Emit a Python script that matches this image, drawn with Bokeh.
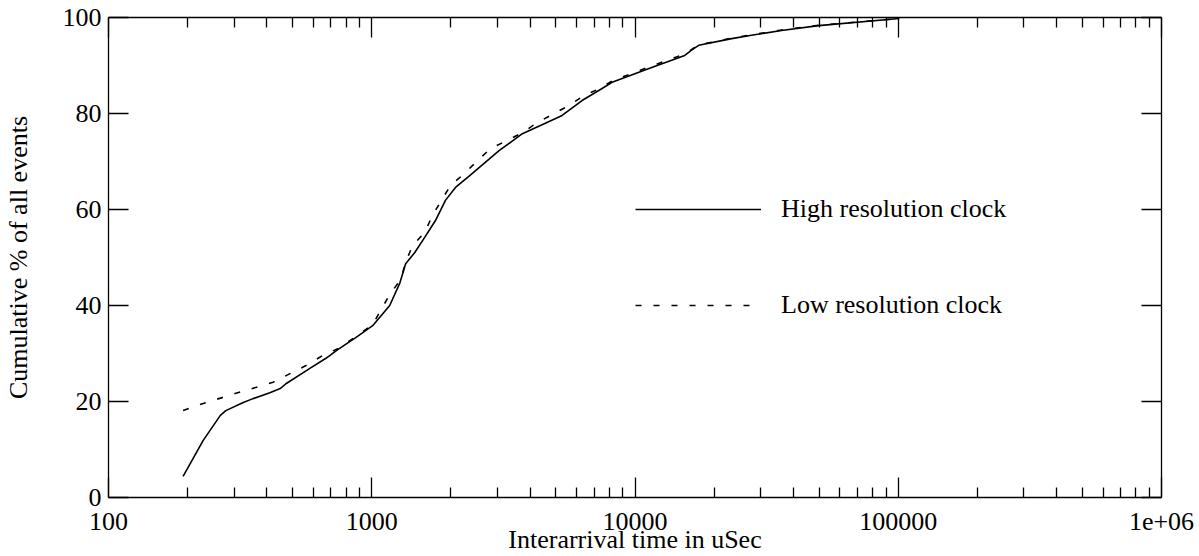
from bokeh.plotting import figure
from bokeh.models import (Range1d, LogAxis, LinearAxis, FixedTicker, CustomJSTickFormatter,
                          Legend, LegendItem)
from bokeh.embed import file_html
from bokeh.resources import INLINE

# ---- data ----
hi_x = [192, 229, 266, 279, 325, 354, 410, 449, 472, 582, 670, 743, 869, 1008, 1170, 1277,
        1345, 1455, 1589, 1746, 1905, 2080, 2350, 3053, 3733, 4500, 5285, 6293, 7500, 8185,
        11300, 15450, 16700, 17460, 23300, 27700, 36000, 49800, 101000]
hi_y = [4.4, 11.9, 17.1, 18.1, 19.8, 20.6, 21.8, 22.7, 23.7, 26.9, 29.0, 30.8, 33.3, 35.8, 40.0, 44.6,
        48.7, 51.0, 54.2, 57.7, 61.9, 64.6, 67.0, 72.3, 75.8, 77.8, 79.6, 82.7, 85.2, 86.5,
        89.4, 92.1, 93.5, 94.2, 95.6, 96.3, 97.3, 98.3, 99.8]

lo_x = [192, 229, 305, 422, 489, 563, 652, 743, 869, 1008, 1082, 1170, 1289, 1345, 1429, 1589,
        1702, 1858, 1992, 2250, 2523, 2827, 3273, 3733, 4255, 4933, 5623, 6412, 7350, 8185,
        11300, 15450, 16700, 17460, 23300, 36000, 49800, 101000]
lo_y = [18.1, 19.6, 21.7, 24.0, 25.8, 27.5, 29.6, 31.0, 33.5, 36.0, 39.0, 42.3, 45.4, 49.0, 52.5, 55.2,
        58.8, 62.3, 65.0, 67.5, 70.2, 72.7, 74.4, 76.0, 78.1, 80.0, 81.7, 83.75, 85.2, 86.8,
        89.7, 92.4, 93.6, 94.3, 95.7, 97.4, 98.4, 99.8]

series_names = ["High resolution clock", "Low resolution clock"]
x_ticks = [100, 1000, 10000, 100000, 1000000]
x_tick_labels = ["100", "1000", "10000", "100000", "1e+06"]
x_minor_ticks = [m * d for d in x_ticks[:-1] for m in range(2, 10)]
y_ticks = [0, 20, 40, 60, 80, 100]
x_title = "Interarrival time in uSec"
y_title = "Cumulative % of all events"

FONT = "Liberation Serif"
FS = "26px"

p = figure(width=1199, height=556, x_axis_type="log",
           x_range=Range1d(100, 1e6), y_range=Range1d(0, 100),
           output_backend="svg", toolbar_location=None,
           min_border_left=105, min_border_right=38, min_border_top=17, min_border_bottom=59,
           outline_line_color=None, background_fill_color="white", border_fill_color="white")
p.xgrid.visible = False
p.ygrid.visible = False

xfmt = CustomJSTickFormatter(args=dict(xt=x_ticks, xl=x_tick_labels), code="""
for (let i = 0; i < xt.length; i++) {
  if (Math.abs(tick - xt[i]) < 1e-6 * xt[i]) return xl[i];
}
return "";
""")
blank = CustomJSTickFormatter(code="return '';")


def style(ax):
    ax.axis_line_color = "black"
    ax.axis_line_width = 1.3
    ax.major_tick_line_color = "black"
    ax.major_tick_line_width = 1.3
    ax.minor_tick_line_color = "black"
    ax.minor_tick_line_width = 1.3
    ax.major_tick_in = 20
    ax.major_tick_out = 0
    ax.minor_tick_in = 10
    ax.minor_tick_out = 0
    ax.major_label_text_font = FONT
    ax.major_label_text_font_size = FS
    ax.major_label_text_color = "black"
    ax.axis_label_text_font = FONT
    ax.axis_label_text_font_size = FS
    ax.axis_label_text_font_style = "normal"
    ax.axis_label_text_color = "black"


# bottom x axis
xa = p.xaxis[0]
xa.ticker = FixedTicker(ticks=x_ticks, minor_ticks=x_minor_ticks)
xa.formatter = xfmt
style(xa)
xa.major_label_standoff = 15
xa.axis_label = x_title
xa.axis_label_standoff = -8

# left y axis
ya = p.yaxis[0]
ya.ticker = FixedTicker(ticks=y_ticks)
style(ya)
ya.minor_tick_line_color = None
ya.major_label_standoff = 7
ya.axis_label = y_title
ya.axis_label_standoff = 27

# top mirror axis (ticks only)
top = LogAxis(ticker=FixedTicker(ticks=x_ticks, minor_ticks=x_minor_ticks), formatter=blank)
style(top)
top.major_label_text_font_size = "0px"
top.major_label_standoff = 0
p.add_layout(top, "above")

# right mirror axis (ticks only)
right = LinearAxis(ticker=FixedTicker(ticks=y_ticks), formatter=blank)
style(right)
right.minor_tick_line_color = None
right.major_label_text_font_size = "0px"
right.major_label_standoff = 0
p.add_layout(right, "right")

r1 = p.line(hi_x, hi_y, line_color="black", line_width=1.6, line_join="round")
r2 = p.line(lo_x, lo_y, line_color="black", line_width=1.6, line_dash="6 12", line_join="round")

legend = Legend(items=[LegendItem(label=series_names[0], renderers=[r1]),
                       LegendItem(label=series_names[1], renderers=[r2])],
                location=(527, 177), glyph_width=126, glyph_height=30, label_height=30,
                label_standoff=20, spacing=66, padding=0, margin=0,
                border_line_color=None, background_fill_alpha=0,
                label_text_font=FONT, label_text_font_size=FS, label_text_color="black")
p.add_layout(legend, "center")

open("out.html", "w").write(file_html(p, INLINE))
